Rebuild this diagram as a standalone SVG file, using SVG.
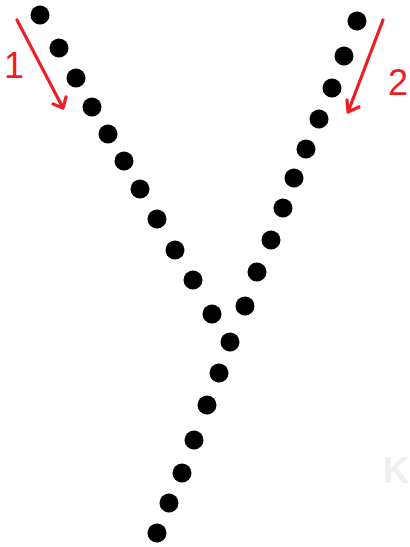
<svg xmlns="http://www.w3.org/2000/svg" width="410" height="547" viewBox="0 0 410 547">
<style>
.dot{fill:#000}
.arr{stroke:#ee1c25;stroke-width:3.2;stroke-linecap:round;stroke-linejoin:round;fill:none}
.lbl{fill:#ee1c25;font-family:"Liberation Sans",sans-serif;font-size:36px}
.wm{fill:#efefef;font-family:"Liberation Sans",sans-serif;font-weight:bold;font-size:36px}
</style>
<rect width="410" height="547" fill="#fff"/>
<g id="watermark"><text class="wm" x="383" y="483">K</text></g>
<g id="left-branch">
<circle class="dot" cx="40" cy="15" r="9.5"/>
<circle class="dot" cx="59" cy="48" r="9.5"/>
<circle class="dot" cx="76" cy="78" r="9.5"/>
<circle class="dot" cx="92" cy="107" r="9.5"/>
<circle class="dot" cx="108" cy="134" r="9.5"/>
<circle class="dot" cx="124" cy="161" r="9.5"/>
<circle class="dot" cx="140" cy="189" r="9.5"/>
<circle class="dot" cx="157" cy="219" r="9.5"/>
<circle class="dot" cx="175" cy="250" r="9.5"/>
<circle class="dot" cx="193" cy="280" r="9.5"/>
<circle class="dot" cx="212" cy="314" r="9.5"/>
</g>
<g id="right-branch">
<circle class="dot" cx="357" cy="21" r="9.5"/>
<circle class="dot" cx="344" cy="56" r="9.5"/>
<circle class="dot" cx="332" cy="88" r="9.5"/>
<circle class="dot" cx="319" cy="119" r="9.5"/>
<circle class="dot" cx="306" cy="149" r="9.5"/>
<circle class="dot" cx="294" cy="178" r="9.5"/>
<circle class="dot" cx="283" cy="208" r="9.5"/>
<circle class="dot" cx="271" cy="240" r="9.5"/>
<circle class="dot" cx="257" cy="272" r="9.5"/>
<circle class="dot" cx="245" cy="306" r="9.5"/>
</g>
<g id="stem">
<circle class="dot" cx="230" cy="342" r="9.5"/>
<circle class="dot" cx="219" cy="373" r="9.5"/>
<circle class="dot" cx="207" cy="405" r="9.5"/>
<circle class="dot" cx="194" cy="440" r="9.5"/>
<circle class="dot" cx="182" cy="473" r="9.5"/>
<circle class="dot" cx="169" cy="503" r="9.5"/>
<circle class="dot" cx="157" cy="533" r="9.5"/>
</g>
<g id="connectors">
<path class="arr" d="M17 20 L63 108 M53 104 L63 108 L66 97"/>
<path class="arr" d="M383 20 L348 112 M347 100 L348 112 L359 107"/>
</g>
<g id="labels">
<text class="lbl" x="4" y="78">1</text>
<text class="lbl" x="388" y="95">2</text>
</g>
</svg>
